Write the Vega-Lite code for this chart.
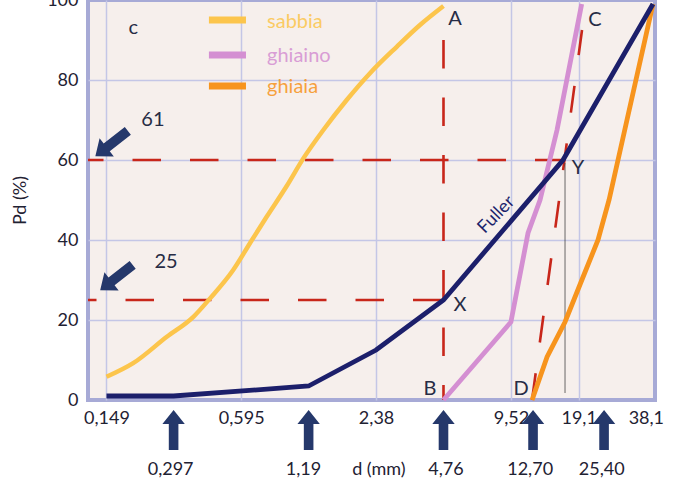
{
  "$schema": "https://vega.github.io/schema/vega-lite/v6.json",
  "width": 567,
  "height": 400,
  "autosize": "none",
  "padding": {"left": 88, "top": 0, "right": 34, "bottom": 84},
  "background": "white",
  "config": {
    "view": {"fill": "#f6efec", "stroke": "#a7aad6", "strokeWidth": 4},
    "axis": {"domain": false, "ticks": false, "labelFont": "Lato", "labelFontSize": 18, "labelColor": "#1f2233", "gridWidth": 1.5, "labelFlush": false, "labelOverlap": false, "titleFont": "Lato"},
    "text": {"font": "Lato"}
  },
  "datasets": {
    "lines": [
      {"s": "ghiaino", "o": 1, "d": 4.76, "p": 0},
      {"s": "ghiaino", "o": 2, "d": 9.52, "p": 19.5},
      {"s": "ghiaino", "o": 3, "d": 11.35, "p": 41.75},
      {"s": "ghiaino", "o": 4, "d": 12.84, "p": 50},
      {"s": "ghiaino", "o": 5, "d": 15.29, "p": 67.5},
      {"s": "ghiaino", "o": 6, "d": 19.7, "p": 99},
      {"s": "ghiaia", "o": 1, "d": 11.83, "p": 0},
      {"s": "ghiaia", "o": 2, "d": 13.8, "p": 10.75},
      {"s": "ghiaia", "o": 3, "d": 16.6, "p": 19.5},
      {"s": "ghiaia", "o": 4, "d": 19.98, "p": 30.75},
      {"s": "ghiaia", "o": 5, "d": 23.3, "p": 40},
      {"s": "ghiaia", "o": 6, "d": 26.1, "p": 50},
      {"s": "ghiaia", "o": 7, "d": 41.0, "p": 99},
      {"s": "Fuller", "o": 1, "d": 0.149, "p": 1},
      {"s": "Fuller", "o": 2, "d": 0.297, "p": 1},
      {"s": "Fuller", "o": 3, "d": 1.19, "p": 3.5},
      {"s": "Fuller", "o": 4, "d": 2.38, "p": 12.5},
      {"s": "Fuller", "o": 5, "d": 4.76, "p": 25},
      {"s": "Fuller", "o": 6, "d": 16.26, "p": 60},
      {"s": "Fuller", "o": 7, "d": 41.0, "p": 99}
    ],
    "sand": [
      {"s": "sabbia", "d": 0.149, "p": 5.8},
      {"s": "sabbia", "d": 0.196, "p": 9.2},
      {"s": "sabbia", "d": 0.277, "p": 15.8},
      {"s": "sabbia", "d": 0.364, "p": 20.8},
      {"s": "sabbia", "d": 0.432, "p": 25.4},
      {"s": "sabbia", "d": 0.548, "p": 32.5},
      {"s": "sabbia", "d": 0.651, "p": 39.2},
      {"s": "sabbia", "d": 0.773, "p": 45.8},
      {"s": "sabbia", "d": 0.95, "p": 53.5},
      {"s": "sabbia", "d": 1.127, "p": 60.4},
      {"s": "sabbia", "d": 1.384, "p": 67.5},
      {"s": "sabbia", "d": 1.76, "p": 75},
      {"s": "sabbia", "d": 2.236, "p": 81.7},
      {"s": "sabbia", "d": 2.943, "p": 88.3},
      {"s": "sabbia", "d": 3.738, "p": 93.75},
      {"s": "sabbia", "d": 4.76, "p": 98.5}
    ],
    "dash": [
      {"id": "h60", "d": 0.1232, "p": 60, "d2": 16.26, "p2": 60},
      {"id": "h25", "d": 0.1232, "p": 25, "d2": 4.76, "p2": 25},
      {"id": "v", "d": 4.76, "p": 90, "d2": 4.76, "p2": 0},
      {"id": "s", "d": 11.83, "p": 0, "d2": 19.77, "p2": 92.5}
    ],
    "pencil": [{"d": 16.6, "p": 59.25, "d2": 16.6, "p2": 1.75}],
    "legend": [
      {"s": "sabbia", "d": 0.427, "d2": 0.625, "p": 95},
      {"s": "ghiaino", "d": 0.427, "d2": 0.625, "p": 86.25},
      {"s": "ghiaia", "d": 0.427, "d2": 0.625, "p": 78.5}
    ],
    "legendText": [
      {"s": "sabbia", "t": "sabbia", "d": 0.776, "p": 94.5},
      {"s": "ghiaino", "t": "ghiaino", "d": 0.776, "p": 86},
      {"s": "ghiaia", "t": "ghiaia", "d": 0.776, "p": 78.25}
    ],
    "arrowsUp": [
      {"d": 0.297, "p": -7.5},
      {"d": 1.19, "p": -7.5},
      {"d": 4.76, "p": -7.5},
      {"d": 11.95, "p": -7.5},
      {"d": 24.8, "p": -7.5}
    ],
    "arrowsDiag": [
      {"d": 0.157, "p": 64.1},
      {"d": 0.165, "p": 30.6}
    ],
    "row2": [
      {"t": "0,297", "d": 0.288, "p": -17.5},
      {"t": "1,19", "d": 1.129, "p": -17.5},
      {"t": "d (mm)", "d": 2.45, "p": -17.5},
      {"t": "4,76", "d": 4.88, "p": -17.5},
      {"t": "12,70", "d": 11.6, "p": -17.5},
      {"t": "25,40", "d": 24.2, "p": -17.5}
    ],
    "letters": [
      {"t": "c", "d": 0.196, "p": 93},
      {"t": "A", "d": 5.36, "p": 95.25},
      {"t": "C", "d": 22.6, "p": 95},
      {"t": "B", "d": 4.14, "p": 2.75},
      {"t": "D", "d": 10.56, "p": 2.75},
      {"t": "X", "d": 5.64, "p": 23.75},
      {"t": "Y", "d": 18.97, "p": 58},
      {"t": "61", "d": 0.24, "p": 70},
      {"t": "25", "d": 0.275, "p": 34.5}
    ],
    "fullerLabel": [{"s": "Fuller", "t": "Fuller", "d": 8.21, "p": 46.25}]
  },
  "encoding": {
    "x": {
      "field": "d",
      "type": "quantitative",
      "scale": {"type": "log", "domain": [0.1232, 41.86], "nice": false},
      "axis": {
        "title": null,
        "values": [0.149, 0.595, 2.38, 9.52, 19.1, 38.1],
        "labelExpr": "replace(toString(datum.value), '.', ',')",
        "labelPadding": 9,
        "labelFontSize": 18,
        "grid": true,
        "gridColor": {"condition": {"test": "datum.value > 30", "value": "transparent"}, "value": "#c4c6e6"},
        "encode": {"labels": {"update": {"dx": {"signal": "datum.value > 9 && datum.value < 20 ? -7 : 0"}}}}
      }
    },
    "y": {
      "field": "p",
      "type": "quantitative",
      "scale": {"domain": [0, 100], "nice": false, "zero": false},
      "axis": {
        "title": "Pd (%)",
        "titleFontSize": 18,
        "titleFontWeight": "normal",
        "titleColor": "#1f2233",
        "titleX": -68,
        "titleY": 200,
        "titleAngle": -90,
        "titleAlign": "center",
        "titleBaseline": "middle",
        "values": [0, 20, 40, 60, 80, 100],
        "labelPadding": 10,
        "grid": true,
        "gridColor": {"condition": {"test": "datum.value === 0 || datum.value === 100", "value": "transparent"}, "value": "#c4c6e6"}
      }
    }
  },
  "layer": [
    {
      "data": {"name": "dash"},
      "transform": [{"filter": "datum.id === 'h60'"}],
      "mark": {"type": "rule", "color": "#c8261a", "strokeWidth": 2.6, "strokeDash": [28.5, 29], "strokeDashOffset": 13},
      "encoding": {"x2": {"field": "d2"}, "y2": {"field": "p2"}}
    },
    {
      "data": {"name": "dash"},
      "transform": [{"filter": "datum.id === 'h25'"}],
      "mark": {"type": "rule", "color": "#c8261a", "strokeWidth": 2.6, "strokeDash": [28.5, 29], "strokeDashOffset": 20},
      "encoding": {"x2": {"field": "d2"}, "y2": {"field": "p2"}}
    },
    {
      "data": {"name": "dash"},
      "transform": [{"filter": "datum.id === 'v'"}],
      "mark": {"type": "rule", "color": "#c8261a", "strokeWidth": 2.6, "strokeDash": [28.5, 29], "strokeDashOffset": 0},
      "encoding": {"x2": {"field": "d2"}, "y2": {"field": "p2"}}
    },
    {
      "data": {"name": "dash"},
      "transform": [{"filter": "datum.id === 's'"}],
      "mark": {"type": "rule", "color": "#c8261a", "strokeWidth": 2.6, "strokeDash": [27, 31], "strokeDashOffset": 0},
      "encoding": {"x2": {"field": "d2"}, "y2": {"field": "p2"}}
    },
    {
      "data": {"name": "pencil"},
      "mark": {"type": "rule", "color": "#444444", "strokeWidth": 1, "opacity": 0.8},
      "encoding": {"x2": {"field": "d2"}, "y2": {"field": "p2"}}
    },
    {
      "data": {"name": "lines"},
      "mark": {"type": "line", "strokeWidth": 4.8},
      "encoding": {
        "color": {"field": "s", "type": "nominal", "scale": {"domain": ["sabbia", "ghiaino", "ghiaia", "Fuller"], "range": ["#fcc54c", "#d48fd2", "#f7941d", "#1c1f6b"]}, "legend": null},
        "order": {"field": "o", "type": "quantitative"}
      }
    },
    {
      "data": {"name": "sand"},
      "mark": {"type": "line", "strokeWidth": 4.5, "interpolate": "monotone"},
      "encoding": {"color": {"field": "s", "type": "nominal", "legend": null}}
    },
    {
      "data": {"name": "legend"},
      "mark": {"type": "rule", "strokeWidth": 7},
      "encoding": {"x2": {"field": "d2"}, "color": {"field": "s", "type": "nominal", "legend": null}}
    },
    {
      "data": {"name": "legendText"},
      "mark": {"type": "text", "fontSize": 20, "align": "left", "baseline": "middle", "opacity": 0.85},
      "encoding": {"text": {"field": "t"}, "color": {"field": "s", "type": "nominal", "legend": null}}
    },
    {
      "data": {"name": "fullerLabel"},
      "mark": {"type": "text", "fontSize": 18, "align": "center", "baseline": "middle", "angle": -46},
      "encoding": {"text": {"field": "t"}, "color": {"field": "s", "type": "nominal", "legend": null}}
    },
    {
      "data": {"name": "letters"},
      "mark": {"type": "text", "fontSize": 20, "align": "center", "baseline": "middle", "color": "#272c45"},
      "encoding": {"text": {"field": "t"}}
    },
    {
      "data": {"name": "row2"},
      "mark": {"type": "text", "fontSize": 18, "align": "center", "baseline": "middle", "color": "#1f2233"},
      "encoding": {"text": {"field": "t"}}
    },
    {
      "data": {"name": "arrowsUp"},
      "mark": {"type": "point", "shape": "M0,-1L0.56,-0.3L0.24,-0.3L0.24,1L-0.24,1L-0.24,-0.3L-0.56,-0.3Z", "size": 1600, "filled": true, "color": "#25386b", "opacity": 1, "strokeWidth": 0}
    },
    {
      "data": {"name": "arrowsDiag"},
      "mark": {"type": "point", "shape": "M0,-1L0.56,-0.3L0.24,-0.3L0.24,1L-0.24,1L-0.24,-0.3L-0.56,-0.3Z", "size": 1700, "angle": 232, "filled": true, "color": "#25386b", "opacity": 1, "strokeWidth": 0}
    }
  ]
}
